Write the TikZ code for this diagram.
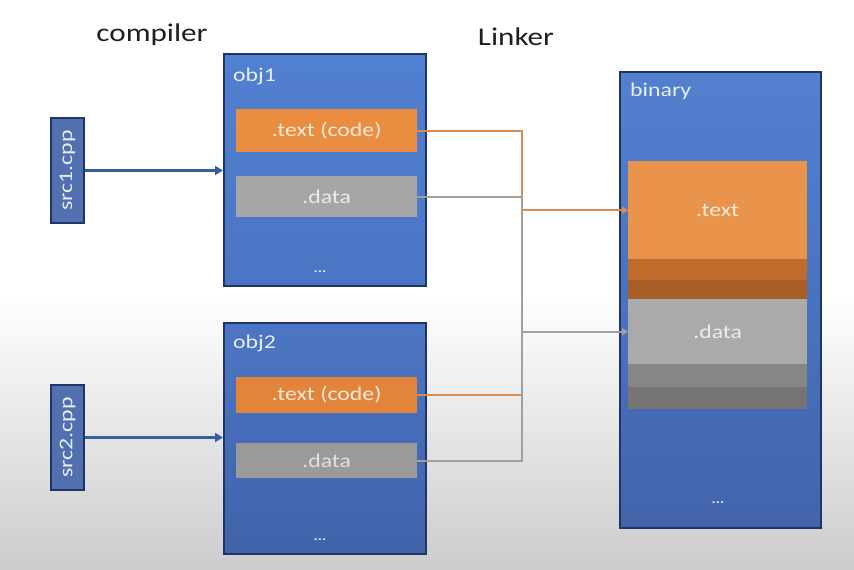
\documentclass[tikz,border=0pt]{standalone}
\usepackage{fontspec}
\setmainfont{Carlito}[FakeStretch=1.22]
\usetikzlibrary{arrows.meta}
\definecolor{navy}{HTML}{1E3566}
\definecolor{srcblue}{HTML}{3F5FA6}
\definecolor{srcline}{HTML}{3A5BA3}
\definecolor{orangebox}{HTML}{EA8D40}
\definecolor{orangebox2}{HTML}{E2843A}
\definecolor{graybox}{HTML}{A6A6A6}
\definecolor{graybox2}{HTML}{9A9A9A}
\definecolor{orangeline}{HTML}{D98A4E}
\definecolor{grayline}{HTML}{A0A0A0}
\definecolor{cream}{HTML}{F5EBDD}
\definecolor{lbl}{HTML}{E8EEF8}
\definecolor{o1top}{RGB}{82,128,208}
\definecolor{o1bot}{RGB}{74,117,196}
\definecolor{o2top}{RGB}{76,118,196}
\definecolor{o2bot}{RGB}{64,98,170}
\definecolor{bitop}{RGB}{82,129,208}
\definecolor{bibot}{RGB}{66,100,172}
\definecolor{btext}{RGB}{233,147,75}
\definecolor{bband1}{RGB}{192,106,44}
\definecolor{bband2}{RGB}{169,94,37}
\definecolor{bdata}{RGB}{170,170,170}
\definecolor{dband1}{RGB}{134,134,134}
\definecolor{dband2}{RGB}{118,116,116}
\begin{document}
\begin{tikzpicture}[x=1pt,y=-1pt,
  bluebox/.style={draw=navy, line width=1.6pt, inner sep=0pt, anchor=north west},
  sect/.style={inner sep=0pt, anchor=north west, text=cream, font=\fontsize{19.5}{21}\selectfont},
  band/.style={inner sep=0pt, anchor=north west, minimum width=179pt},
  lbltext/.style={inner sep=0pt, anchor=west, text=lbl, font=\fontsize{19.5}{21}\selectfont},
  head/.style={inner sep=0pt, text=black!88, font=\fontsize{25.5}{27}\selectfont},
  dots/.style={inner sep=0pt, text=lbl, font=\fontsize{13}{14}\selectfont\bfseries},
  srcbox/.style={fill=srcblue!90!white, draw=navy, line width=1.3pt, inner sep=0pt, minimum width=33pt, minimum height=105pt, text=lbl, font=\fontsize{19.5}{21}\selectfont},
  barrow/.style={draw=srcline, line width=2.6pt, -{Triangle[length=8pt,width=9pt]}},
  oline/.style={draw=orangeline, line width=2.4pt},
  gline/.style={draw=grayline, line width=2.4pt},
  tip/.style={-{Triangle[length=6pt,width=7pt]}}
]
\useasboundingbox (0,0) rectangle (854,570);
\fill[white] (0,0) rectangle (854,296);
\shade[top color=white, bottom color=black!20] (0,295) rectangle (854,570);

% headers
\node[head] (hc) at (152,35) {compiler};
\node[head] (hl) at (516,37) {Linker};

% obj1
\node[bluebox, top color=o1top, bottom color=o1bot, minimum width=202pt, minimum height=232pt] (obj1) at (223,53) {};
\node[lbltext] (o1l) at (233,76) {obj1};
\node[sect, fill=orangebox, minimum width=181pt, minimum height=43pt] (t1) at (236,109) {.text (code)};
\node[sect, fill=graybox, text=white!92!black, minimum width=181pt, minimum height=41pt] (d1) at (236,176) {.data};
\node[dots] (o1d) at (320,272) {...};

% obj2
\node[bluebox, top color=o2top, bottom color=o2bot, minimum width=202pt, minimum height=231pt] (obj2) at (223,322) {};
\node[lbltext] (o2l) at (233,343) {obj2};
\node[sect, fill=orangebox2, minimum width=181pt, minimum height=36pt] (t2) at (236,377) {.text (code)};
\node[sect, fill=graybox2, text=white!88!black, minimum width=181pt, minimum height=35pt] (d2) at (236,443) {.data};
\node[dots] (o2d) at (320,540) {...};

% sources
\node[srcbox] (src1) at (67.5,170.5) {\rotatebox{90}{src1.cpp}};
\node[srcbox] (src2) at (67.5,437.5) {\rotatebox{90}{src2.cpp}};
\draw[barrow] (src1.east) -- (src1.east -| obj1.west);
\draw[barrow] (src2.east) -- (src2.east -| obj2.west);

% binary
\node[bluebox, top color=bitop, bottom color=bibot, minimum width=201pt, minimum height=456pt] (bin) at (619,71) {};
\node[lbltext] (binl) at (630,91) {binary};
\node[sect, fill=btext, minimum width=179pt, minimum height=98pt] (bt) at (628,161) {.text};
\node[band, fill=bband1, minimum height=21pt] (bt1) at (628,259) {};
\node[band, fill=bband2, minimum height=19pt] (bt2) at (628,280) {};
\node[sect, fill=bdata, text=white!92!black, minimum width=179pt, minimum height=65pt] (bd) at (628,299) {.data};
\node[band, fill=dband1, minimum height=23pt] (bd1) at (628,364) {};
\node[band, fill=dband2, minimum height=22pt] (bd2) at (628,387) {};
\node[dots] (bind) at (718,503) {...};

% linker connectors
\coordinate (jx) at (522,0);
\draw[oline, tip] (t2.east) -- (t2.east -| jx) |- (bt.west);
\draw[oline, tip] (t1.east) -- (t1.east -| jx) |- (bt.west);
\draw[gline, tip] (d2.east) -- (d2.east -| jx) |- (bd.west);
\draw[gline, tip] (d1.east) -- (d1.east -| jx) |- (bd.west);
\end{tikzpicture}
\end{document}
